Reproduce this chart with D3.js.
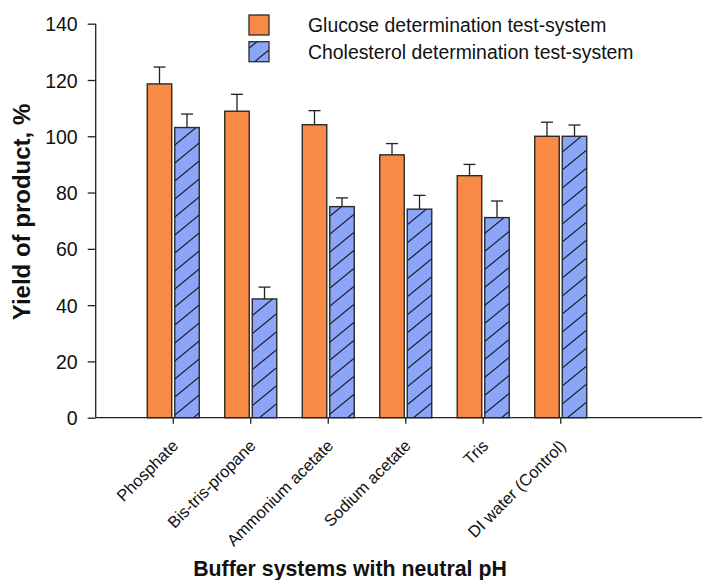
<!DOCTYPE html>
<html>
<head>
<meta charset="utf-8">
<script src="https://cdn.jsdelivr.net/npm/d3@7"></script>
<style>
  body { margin: 0; background: #fff; }
  svg { display: block; font-family: "Liberation Sans", Arial, sans-serif; }
</style>
</head>
<body>
<svg id="chart" width="708" height="580"></svg>
<script>
// Buffer systems tested
const categories = ["Phosphate", "Bis-tris-propane", "Ammonium acetate", "Sodium acetate", "Tris", "DI water (Control)"];
// Yield of product, % (mean and error)
const glucose    = [118.6, 108.9, 104.1, 93.4, 86.0, 100.0];
const glucoseErr = [6.0, 6.0, 5.0, 4.0, 4.0, 5.0];
const cholesterol    = [103.1, 42.2, 75.0, 74.1, 71.1, 100.0];
const cholesterolErr = [4.8, 4.2, 3.1, 4.9, 5.9, 4.0];
const seriesNames = ["Glucose determination test-system", "Cholesterol determination test-system"];
const yTicks = [0, 20, 40, 60, 80, 100, 120, 140];

const svg = d3.select("#chart");
const orange = "#f98a45";
const blue = "#8ba6f7";
const ink = "#222";

// hatch pattern for the second series
const pw = 22, ph = 18;
const defs = svg.append("defs");
const pat = defs.append("pattern")
  .attr("id", "hatch")
  .attr("patternUnits", "userSpaceOnUse")
  .attr("width", pw).attr("height", ph);
pat.append("rect").attr("width", pw).attr("height", ph).attr("fill", blue);
pat.append("path")
  .attr("d", `M0,${ph} L${pw},0 M${-pw},${ph} L${0},0 M${-pw},${2 * ph} L0,${ph} M${pw},${ph} L${2 * pw},0 M0,${2 * ph} L${pw},${ph} M0,0 L${pw},${-ph}`)
  .attr("stroke", "#1b1b2b").attr("stroke-width", 1.2);

const y = d3.scaleLinear().domain([0, 140]).range([417.7, 23.7]);
const x = d3.scaleBand().domain(categories).range([134.5, 599.5]).padding(0);

const axisX0 = 95.7, axisX1 = 702;

// y axis
const yAxis = svg.append("g")
  .attr("transform", `translate(${axisX0},0)`)
  .call(d3.axisLeft(y).tickValues(yTicks).tickSize(8).tickPadding(10).tickFormat(d3.format("d")));
yAxis.select(".domain").attr("stroke", ink).attr("stroke-width", 1.3).attr("d", `M0,${y(140)}V${y(0)}`);
yAxis.selectAll(".tick line").attr("stroke", ink).attr("stroke-width", 1.3);
yAxis.selectAll(".tick text")
  .attr("font-size", 19.5).attr("fill", "#111")
  .attr("font-family", "Liberation Sans, Arial, sans-serif")
  .attr("dy", "0.36em");

// bars
const grp = svg.append("g");
const bw = 24.5;
categories.forEach((c, i) => {
  const cx = x(c) + x.bandwidth() / 2;
  const g = grp.append("g");
  // glucose
  const gx = cx - 1.5 - bw;
  g.append("rect").attr("x", gx).attr("y", y(glucose[i]))
    .attr("width", bw).attr("height", y(0) - y(glucose[i]))
    .attr("fill", orange).attr("stroke", "#2a2a2a").attr("stroke-width", 1.4);
  // cholesterol
  const bx = cx + 1.5;
  g.append("rect").attr("x", bx).attr("y", y(cholesterol[i]))
    .attr("width", bw).attr("height", y(0) - y(cholesterol[i]))
    .attr("fill", "url(#hatch)").attr("stroke", "#2a2a2a").attr("stroke-width", 1.4);
  // error bars (upper only)
  [[gx + bw / 2, glucose[i], glucoseErr[i]], [bx + bw / 2, cholesterol[i], cholesterolErr[i]]].forEach(([ex, v, e]) => {
    g.append("line").attr("x1", ex).attr("x2", ex).attr("y1", y(v)).attr("y2", y(v + e))
      .attr("stroke", ink).attr("stroke-width", 1.3);
    g.append("line").attr("x1", ex - 6).attr("x2", ex + 6).attr("y1", y(v + e)).attr("y2", y(v + e))
      .attr("stroke", ink).attr("stroke-width", 1.3);
  });
});

// x axis
const xAxis = svg.append("g")
  .attr("transform", `translate(0,${y(0)})`)
  .call(d3.axisBottom(x).tickSize(6));
xAxis.select(".domain").attr("stroke", ink).attr("stroke-width", 1.3).attr("d", `M${axisX0},0H${axisX1}`);
xAxis.selectAll(".tick line").attr("stroke", ink).attr("stroke-width", 1.3);
xAxis.selectAll(".tick text")
  .attr("font-size", 16.5).attr("fill", "#111")
  .attr("font-family", "Liberation Sans, Arial, sans-serif")
  .attr("text-anchor", "end")
  .attr("x", 0).attr("y", 0)
  .attr("dy", "0.35em")
  .attr("transform", "translate(2,25) rotate(-45)");

// axis titles
svg.append("text")
  .attr("x", 350).attr("y", 576)
  .attr("text-anchor", "middle")
  .attr("font-size", 21.3).attr("font-weight", "bold").attr("fill", "#111")
  .text("Buffer systems with neutral pH");
svg.append("text")
  .attr("transform", "translate(30,212) rotate(-90)")
  .attr("text-anchor", "middle")
  .attr("font-size", 24).attr("font-weight", "bold").attr("fill", "#111")
  .text("Yield of product, %");

// legend
const legend = svg.append("g");
const lx = 249, ly = [15, 41.7];
const fills = [orange, "url(#hatch)"];
seriesNames.forEach((name, i) => {
  legend.append("rect").attr("x", lx).attr("y", ly[i]).attr("width", 20).attr("height", 20)
    .attr("fill", fills[i]).attr("stroke", "#2a2a2a").attr("stroke-width", 1.3);
  legend.append("text").attr("x", 308).attr("y", ly[i] + 10.5).attr("dy", "0.35em")
    .attr("font-size", 19.4).attr("fill", "#111")
    .text(name);
});
</script>
</body>
</html>
